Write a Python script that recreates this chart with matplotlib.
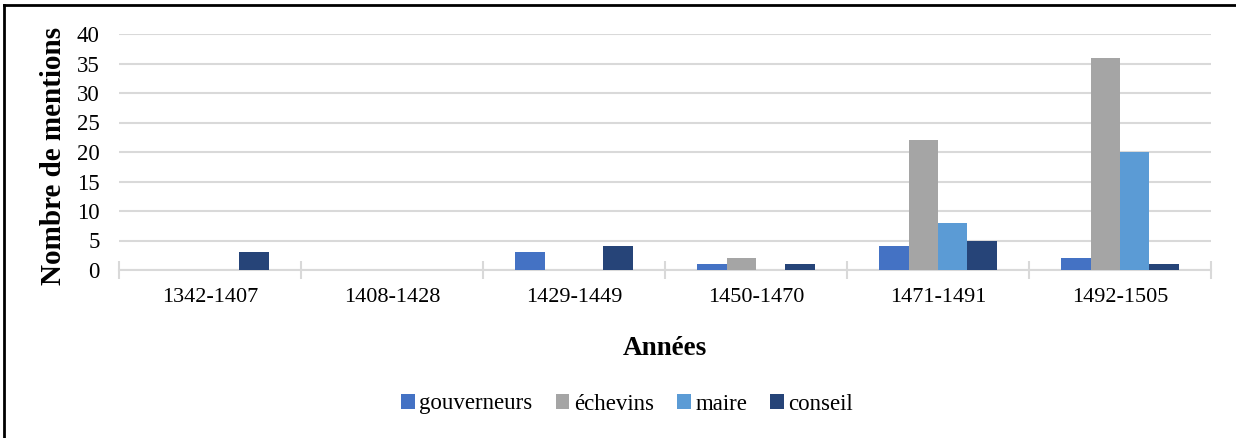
import matplotlib
matplotlib.use("Agg")
import matplotlib.pyplot as plt
import numpy as np
from matplotlib.lines import Line2D
from matplotlib.patches import Patch

plt.rcParams['font.family'] = ['Liberation Serif', 'DejaVu Serif']

periods = ['1342-1407', '1408-1428', '1429-1449', '1450-1470', '1471-1491', '1492-1505']
series_names = ['gouverneurs', 'échevins', 'maire', 'conseil']
gouverneurs = [0, 0, 3, 1, 4, 2]
echevins = [0, 0, 0, 2, 22, 36]
maire = [0, 0, 0, 0, 8, 20]
conseil = [3, 0, 4, 1, 5, 1]
colors = ['#4472C4', '#A5A5A5', '#5B9BD5', '#264478']

fig = plt.figure(figsize=(12.36, 4.38), dpi=100)
ax = fig.add_axes([119 / 1236, 1 - 270 / 438, 1092 / 1236, 236 / 438])

x = np.arange(len(periods))
w = 0.162
for i, (vals, c) in enumerate(zip([gouverneurs, echevins, maire, conseil], colors)):
    ax.bar(x + (i - 1.5) * w, vals, w, color=c, zorder=3)

ax.set_xlim(-0.5, len(periods) - 0.5)
ax.set_ylim(0, 40)
ax.set_yticks(range(0, 41, 5))
ax.yaxis.grid(True, color='#d9d9d9', linewidth=1.5, zorder=0)
ax.set_xticks(x)
ax.set_xticklabels(periods, fontsize=16)
ax.set_xticks(np.arange(-0.5, len(periods), 1), minor=True)
ax.tick_params(axis='x', which='major', length=0, pad=13)
ax.tick_params(axis='x', which='minor', direction='inout', length=13, width=1.5, color='#d9d9d9')
ax.tick_params(axis='y', length=0, pad=14, labelsize=16.5)

for s in ['top', 'right', 'left']:
    ax.spines[s].set_visible(False)
ax.spines['bottom'].set_color('#d9d9d9')
ax.spines['bottom'].set_linewidth(1.5)

ax.set_ylabel('Nombre de mentions', fontsize=21, fontweight='bold')
ax.yaxis.set_label_coords(-0.048, 0.485)
ax.set_xlabel('Années', fontsize=19.5, fontweight='bold')
ax.xaxis.set_label_coords(0.5, -0.28)

handles = [Patch(facecolor=c, edgecolor='none') for c in colors]
fig.legend(handles, series_names, loc='center', bbox_to_anchor=(627 / 1236, 1 - 404 / 438),
           ncol=4, frameon=False, prop={'family': 'Liberation Serif', 'size': 16.5},
           handlelength=0.6, handleheight=0.6, handletextpad=0.2, columnspacing=1.0)

# cropped border of the original chart box
fig.add_artist(Line2D([4 / 1236, 4 / 1236], [0, 1 - 5 / 438], color='black', linewidth=2,
                      transform=fig.transFigure))
fig.add_artist(Line2D([4 / 1236, 1], [1 - 5 / 438, 1 - 5 / 438], color='black', linewidth=2,
                      transform=fig.transFigure))

fig.savefig('out.png', dpi=100)
